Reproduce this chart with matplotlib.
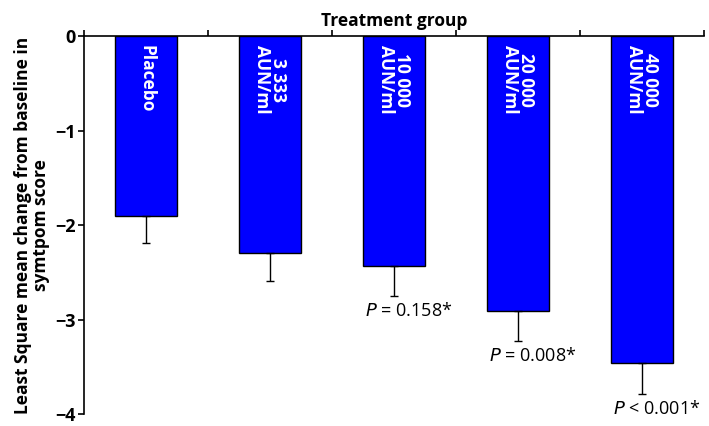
import matplotlib.pyplot as plt

groups = ["Placebo", "3 333\nAUN/ml", "10 000\nAUN/ml", "20 000\nAUN/ml", "40 000\nAUN/ml"]
means = [-1.90, -2.30, -2.43, -2.91, -3.46]
errors = [0.29, 0.29, 0.32, 0.32, 0.33]
pvals = ["", "", "$\\mathit{P}$ = 0.158*", "$\\mathit{P}$ = 0.008*", "$\\mathit{P}$ < 0.001*"]
yticks = [0, -1, -2, -3, -4]
ylabels = ["0", "\u22121", "\u22122", "\u22123", "\u22124"]

plt.rcParams['font.family'] = ['Open Sans', 'DejaVu Sans']

fig = plt.figure(figsize=(7.09, 4.26), dpi=100)
ax = fig.add_axes([0.1185, 0.028, 0.8745, 0.8875])

x = range(len(groups))
ax.bar(x, means, width=0.5, color='#0000ff', edgecolor='black', linewidth=1,
       yerr=[errors, [0] * len(errors)], error_kw=dict(ecolor='black', elinewidth=1, capsize=3, capthick=1))

for i, name in enumerate(groups):
    ax.text(i, -0.1, name, rotation=270, ha='center', va='top', color='white',
            fontsize=12.5, fontweight='bold', linespacing=0.8)
    if pvals[i]:
        ax.text(i + 0.12, means[i] - errors[i] - 0.06, pvals[i], ha='center', va='top', fontsize=13)

ax.set_xlim(-0.5, 4.5)
ax.set_ylim(-4, 0)
ax.set_yticks(yticks)
ax.set_yticklabels(ylabels, fontweight='bold', fontsize=13)
ax.xaxis.tick_top()
ax.set_xticks([-0.5, 0.5, 1.5, 2.5, 3.5, 4.5])
ax.set_xticklabels([])
ax.tick_params(axis='x', direction='out', length=4, width=1.2)
ax.tick_params(axis='y', direction='out', length=4, width=1.2, pad=2)
ax.spines['bottom'].set_visible(False)
ax.spines['right'].set_visible(False)
ax.spines['top'].set_linewidth(1.2)
ax.spines['left'].set_linewidth(1.2)
ax.set_title("Treatment group", fontweight='bold', fontsize=12.5, pad=7)
ax.set_ylabel("Least Square mean change from baseline in\nsymtpom score", fontweight='bold',
              fontsize=12.5, labelpad=4, linespacing=1.0)

fig.savefig("out.png", dpi=100)
